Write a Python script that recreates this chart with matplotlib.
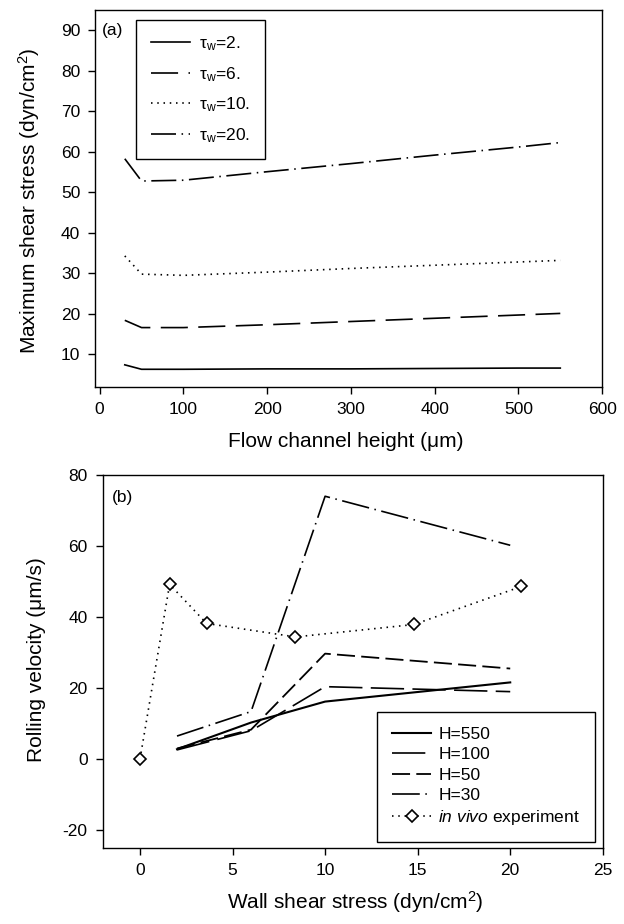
import matplotlib
matplotlib.use("Agg")
import matplotlib.pyplot as plt

plt.rcParams["font.family"] = ["Liberation Sans", "DejaVu Sans"]
plt.rcParams["mathtext.fontset"] = "custom"
plt.rcParams["mathtext.rm"] = "Liberation Sans"
plt.rcParams["mathtext.it"] = "Liberation Sans:italic"
plt.rcParams["lines.scale_dashes"] = False
plt.rcParams["axes.unicode_minus"] = False

# (a) maximum shear stress vs channel height
height_um = [30, 50, 100, 200, 300, 400, 500, 550]
tau_labels = ["2.", "6.", "10.", "20."]
max_stress_tau2 = [7.4, 6.3, 6.3, 6.4, 6.4, 6.5, 6.6, 6.6]
max_stress_tau6 = [18.4, 16.6, 16.6, 17.3, 18.1, 18.9, 19.7, 20.1]
max_stress_tau10 = [34.3, 29.8, 29.5, 30.3, 31.2, 32.0, 32.8, 33.2]
max_stress_tau20 = [58.3, 52.8, 53.0, 55.1, 57.1, 59.2, 61.2, 62.3]

# (b) rolling velocity vs wall shear stress
wall_stress = [2, 6, 10, 20]
vel_h550 = [2.8, 10.3, 16.2, 21.6]
vel_h100 = [2.6, 8.0, 20.4, 19.0]
vel_h50 = [3.0, 8.3, 29.7, 25.5]
vel_h30 = [6.5, 13.4, 74.0, 60.2]
h_labels = ["H=550", "H=100", "H=50", "H=30"]
vivo_stress = [0, 1.6, 3.6, 8.4, 14.8, 20.6]
vivo_vel = [0, 49.2, 38.2, 34.4, 37.9, 48.6]

fig = plt.figure(figsize=(6.24, 9.24), dpi=100)
ax1 = fig.add_axes([0.153, 0.5815, 0.812, 0.4075])
ax2 = fig.add_axes([0.165, 0.0823, 0.801, 0.4037])

lw = 1.2
styles_a = ["-", (0, (19.5, 7.5)), (0, (1.1, 3.4)), (0, (18, 4, 1.1, 4))]
series_a = [max_stress_tau2, max_stress_tau6, max_stress_tau10, max_stress_tau20]
for vals, ls, lab in zip(series_a, styles_a, tau_labels):
    ax1.plot(height_um, vals, color="black", lw=lw, linestyle=ls,
             label="τ$_\\mathregular{w}$=" + lab)

ax1.set_xlim(-5, 600)
ax1.set_ylim(2, 95)
ax1.set_xticks(range(0, 601, 100))
ax1.set_yticks(range(10, 91, 10))
ax1.set_xlabel("Flow channel height (μm)", fontsize=15)
ax1.set_ylabel("Maximum shear stress (dyn/cm$^2$)", fontsize=15)
ax1.xaxis.set_label_coords(0.493, -0.12)
ax1.yaxis.set_label_coords(-0.106, 0.493)
ax1.text(0.034, 0.947, "(a)", transform=ax1.transAxes, fontsize=12.5,
         ha="center", va="center")
leg1 = ax1.legend(loc="upper left", bbox_to_anchor=(0.0796, 0.975),
                  fontsize=12.5, handlelength=2.3, handletextpad=0.5,
                  labelspacing=0.68, borderpad=0.85, borderaxespad=0,
                  fancybox=False, framealpha=1, edgecolor="black")
leg1.get_frame().set_linewidth(1.0)

styles_b = ["-", (0, (24, 6)), (0, (13, 4.5)), (0, (20, 4, 1.1, 4))]
widths_b = [1.5, 1.2, 1.3, 1.2]
series_b = [vel_h550, vel_h100, vel_h50, vel_h30]
for vals, ls, w, lab in zip(series_b, styles_b, widths_b, h_labels):
    ax2.plot(wall_stress, vals, color="black", lw=w, linestyle=ls, label=lab)
ax2.plot(vivo_stress, vivo_vel, color="black", lw=lw, linestyle=(0, (1.1, 3.4)),
         marker="D", markersize=6.5, markerfacecolor="white",
         markeredgecolor="black", markeredgewidth=1.2,
         label="$\\mathit{in\\ vivo}$ experiment")

ax2.set_xlim(-2, 25)
ax2.set_ylim(-25, 80)
ax2.set_xticks(range(0, 26, 5))
ax2.set_yticks(range(-20, 81, 20))
ax2.set_xlabel("Wall shear stress (dyn/cm$^2$)", fontsize=15)
ax2.set_ylabel("Rolling velocity (μm/s)", fontsize=15)
ax2.xaxis.set_label_coords(0.504, -0.11)
ax2.yaxis.set_label_coords(-0.114, 0.504)
ax2.text(0.04, 0.94, "(b)", transform=ax2.transAxes, fontsize=12.5,
         ha="center", va="center")
leg2 = ax2.legend(loc="lower right", bbox_to_anchor=(0.984, 0.016),
                  fontsize=12.5, handlelength=2.25, handletextpad=0.4,
                  labelspacing=0.3, borderpad=0.85, borderaxespad=0,
                  fancybox=False, framealpha=1, edgecolor="black")
leg2.get_frame().set_linewidth(1.0)

for ax in (ax1, ax2):
    for sp in ax.spines.values():
        sp.set_linewidth(1.0)
    ax.tick_params(direction="out", length=5, width=1.0, labelsize=12.5,
                   pad=6)

fig.savefig("out.png", dpi=100)
